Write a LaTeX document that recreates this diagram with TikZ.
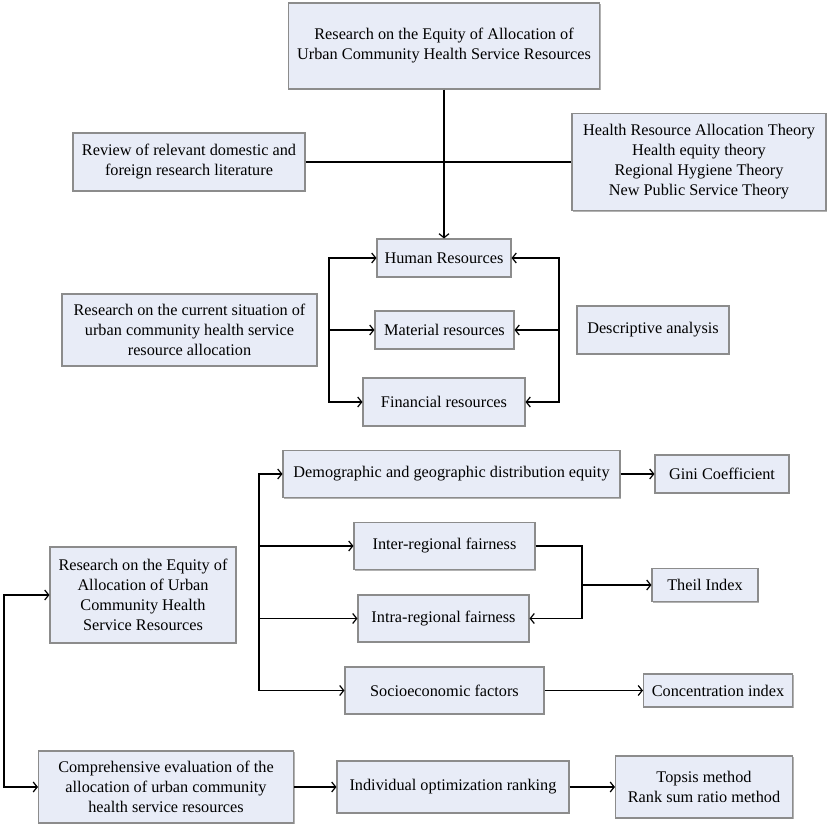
\documentclass[tikz,border=0pt]{standalone}
\usepackage{fontspec}
\setmainfont{Liberation Serif}
\usetikzlibrary{arrows.meta,shadows}
\definecolor{boxfill}{RGB}{232,236,247}
\definecolor{boxline}{RGB}{140,140,140}
\tikzset{
  bx/.style 2 args={draw=boxline, line width=0.8pt, fill=boxfill, align=center,
    inner sep=1pt, font=\fontsize{12.2}{15}\selectfont,
    minimum width=#1*0.75pt, minimum height=#2*0.75pt,
    general shadow={shadow xshift=0.8pt, shadow yshift=-0.8pt, fill=black!30}},
  ln/.style={line width=0.9pt, black},
  arr/.style={ln, -{Straight Barb[length=3pt,width=7.5pt]}},
  arrb/.style={ln, {Straight Barb[length=3pt,width=7.5pt]}-{Straight Barb[length=3pt,width=7.5pt]}}
}
\begin{document}
\begin{tikzpicture}[x=0.75pt,y=-0.75pt]
\useasboundingbox (0,0) rectangle (829,827);
% top part
\node[bx={311}{86}] (top) at (444,46) {Research on the Equity of Allocation of\\Urban Community Health Service Resources};
\node[bx={232}{58}] (rev) at (189,162) {Review of relevant domestic and\\foreign research literature};
\node[bx={254}{97}] (theo) at (699,162) {Health Resource Allocation Theory\\Health equity theory\\Regional Hygiene Theory\\New Public Service Theory};
\node[bx={134}{38}] (hr) at (444,258) {Human Resources};
\node[bx={139}{38}] (mat) at (444.5,330) {Material resources};
\node[bx={162}{48}] (fin) at (444,402) {Financial resources};
\node[bx={255}{72}] (cur) at (189.5,330) {Research on the current situation of\\urban community health service\\resource allocation};
\node[bx={152}{48}] (desc) at (653,330) {Descriptive analysis};
% bottom part
\node[bx={337}{47}] (demo) at (451.5,474) {Demographic and geographic distribution equity};
\node[bx={134}{38}] (gini) at (722,474) {Gini Coefficient};
\node[bx={181}{47}] (inter) at (444.5,546) {Inter-regional fairness};
\node[bx={171}{47}] (intra) at (443.5,618.5) {Intra-regional fairness};
\node[bx={106}{33}] (theil) at (705,585) {Theil Index};
\node[bx={199}{47}] (socio) at (444.5,690.5) {Socioeconomic factors};
\node[bx={149}{33}] (conc) at (718,690.5) {Concentration index};
\node[bx={186}{96}] (req) at (143,595) {Research on the Equity of\\Allocation of Urban\\Community Health\\Service Resources};
\node[bx={255}{72}] (comp) at (166,787) {Comprehensive evaluation of the\\allocation of urban community\\health service resources};
\node[bx={232}{52}] (ind) at (453,787) {Individual optimization ranking};
\node[bx={177}{62}] (tops) at (704,787) {Topsis method\\Rank sum ratio method};
% helper x positions
\coordinate (lx) at (329,0);
\coordinate (rx) at (559,0);
\coordinate (sx) at (259,0);
\coordinate (tx) at (582,0);
\coordinate (fx) at (4,0);
% top connectors
\draw[arr] (top.south) -- (hr.north);
\draw[ln] (rev.east) -- (theo.west);
\draw[arrb] (hr.west) -- (hr.west -| lx) -- (fin.west -| lx) -- (fin.west);
\draw[arr] (mat.west -| lx) -- (mat.west);
\draw[arrb] (hr.east) -- (hr.east -| rx) -- (fin.east -| rx) -- (fin.east);
\draw[arr] (mat.east -| rx) -- (mat.east);
% bottom connectors
\draw[arrb] (demo.west) -- (demo.west -| sx) -- (socio.west -| sx) -- (socio.west);
\draw[arr] (inter.west -| sx) -- (inter.west);
\draw[arr] (intra.west -| sx) -- (intra.west);
\draw[arr] (demo.east) -- (gini.west);
\draw[arr] (inter.east) -- (inter.east -| tx) -- (intra.east -| tx) -- (intra.east);
\draw[arr] (theil.west -| tx) -- (theil.west);
\draw[arr] (socio.east) -- (conc.west);
\draw[arrb] (req.west) -- (req.west -| fx) -- (comp.west -| fx) -- (comp.west);
\draw[arr] (comp.east) -- (ind.west);
\draw[arr] (ind.east) -- (tops.west);
\end{tikzpicture}
\end{document}
